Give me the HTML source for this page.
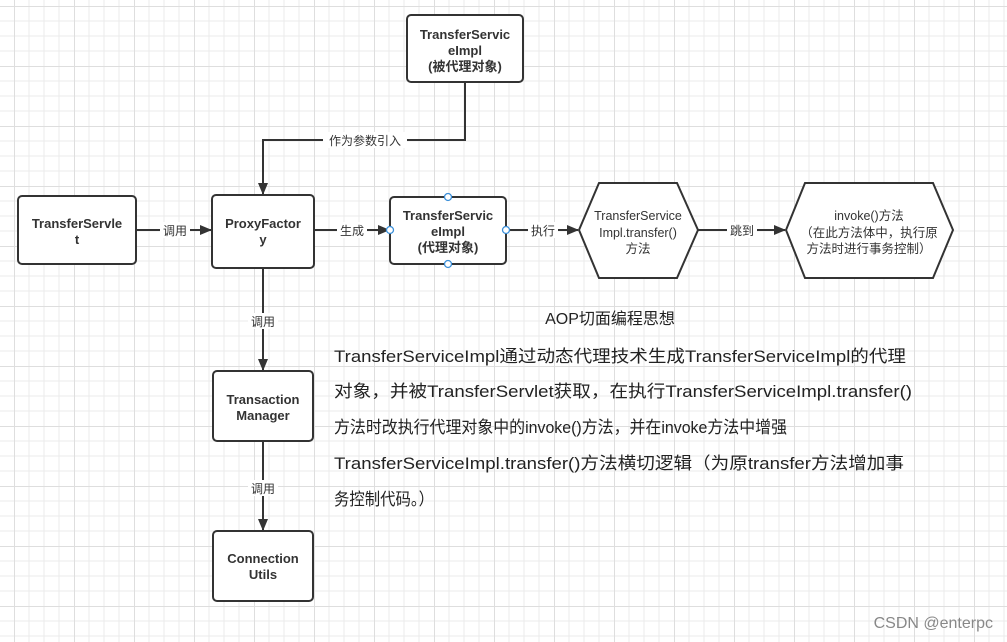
<!DOCTYPE html>
<html><head><meta charset="utf-8"><style>
html,body{margin:0;padding:0;background:#fff}
svg{display:block}
text{font-family:"Liberation Sans","Noto Sans CJK SC",sans-serif}
</style></head><body>
<svg width="1007" height="642" viewBox="0 0 1007 642" xmlns="http://www.w3.org/2000/svg">
<defs>
<pattern id="g" x="14" y="6" width="60" height="60" patternUnits="userSpaceOnUse">
<path d="M15 0V60M30 0V60M45 0V60M0 15H60M0 30H60M0 45H60" stroke="#ebebeb" stroke-width="1"/>
<path d="M0.5 0V60M0 0.5H60" stroke="#dedede" stroke-width="1"/>
</pattern>
<marker id="a" markerWidth="12" markerHeight="10" refX="11" refY="5" orient="auto" markerUnits="userSpaceOnUse">
<path d="M0 0L12 5L0 10z" fill="#333"/></marker>
</defs>
<rect width="1007" height="642" fill="url(#g)"/>
<g stroke="#333" stroke-width="2" fill="none">
<path d="M465 82V140H263V194" marker-end="url(#a)"/>
<path d="M136 230H211" marker-end="url(#a)"/>
<path d="M314 230H389" marker-end="url(#a)"/>
<path d="M506 230H578" marker-end="url(#a)"/>
<path d="M698 230H785" marker-end="url(#a)"/>
<path d="M263 268V370" marker-end="url(#a)"/>
<path d="M263 441V530" marker-end="url(#a)"/>
</g>
<g font-size="12" fill="#333" text-anchor="middle">
<rect x="323" y="132" width="84" height="16" fill="#fff"/>
<text x="365" y="145">作为参数引入</text>
<rect x="160" y="222" width="30" height="16" fill="#fff"/><text x="175" y="235">调用</text>
<rect x="337" y="222" width="30" height="16" fill="#fff"/><text x="352" y="235">生成</text>
<rect x="528" y="222" width="30" height="16" fill="#fff"/><text x="543" y="235">执行</text>
<rect x="727" y="222" width="30" height="16" fill="#fff"/><text x="742" y="235">跳到</text>
<rect x="248" y="313" width="30" height="16" fill="#fff"/><text x="263" y="326">调用</text>
<rect x="248" y="480" width="30" height="16" fill="#fff"/><text x="263" y="493">调用</text>
</g>
<g stroke="#333" stroke-width="2" fill="#fff">
<rect x="18" y="196" width="118" height="68" rx="4"/>
<rect x="212" y="195" width="102" height="73" rx="4"/>
<rect x="407" y="15" width="116" height="67" rx="4"/>
<rect x="390" y="197" width="116" height="67" rx="4"/>
<rect x="213" y="371" width="100" height="70" rx="4"/>
<rect x="213" y="531" width="100" height="70" rx="4"/>
<polygon points="599,183 677,183 698,230 677,278 599,278 579,230"/>
<polygon points="805,183 933,183 953,230 933,278 805,278 786,230"/>
</g>
<g stroke="#3b8fd8" stroke-width="1.3" fill="#fff">
<circle cx="448" cy="197" r="3.5"/><circle cx="448" cy="264" r="3.5"/>
<circle cx="390" cy="230" r="3.5"/><circle cx="506" cy="230" r="3.5"/>
</g>
<g font-size="13" font-weight="bold" fill="#333" text-anchor="middle">
<text x="77" y="228">TransferServle</text><text x="77" y="244">t</text>
<text x="263" y="228">ProxyFactor</text><text x="263" y="244">y</text>
<text x="465" y="39">TransferServic</text><text x="465" y="55">eImpl</text><text x="465" y="71">(被代理对象)</text>
<text x="448" y="220">TransferServic</text><text x="448" y="236">eImpl</text><text x="448" y="252">(代理对象)</text>
<text x="263" y="404">Transaction</text><text x="263" y="420">Manager</text>
<text x="263" y="563">Connection</text><text x="263" y="579">Utils</text>
</g>
<g font-size="12.5" fill="#333" text-anchor="middle">
<text x="638" y="220">TransferService</text><text x="638" y="237">Impl.transfer()</text><text x="638" y="253">方法</text>
<text x="869" y="220">invoke()方法</text><text x="869" y="237">（在此方法体中，执行原</text><text x="869" y="253">方法时进行事务控制）</text>
</g>
<g font-size="17" fill="#222">
<text x="610" y="324" text-anchor="middle" font-size="16">AOP切面编程思想</text>
<text x="334" y="362" textLength="572" lengthAdjust="spacingAndGlyphs">TransferServiceImpl通过动态代理技术生成TransferServiceImpl的代理</text>
<text x="334" y="397" textLength="578" lengthAdjust="spacingAndGlyphs">对象，并被TransferServlet获取，在执行TransferServiceImpl.transfer()</text>
<text x="334" y="433" textLength="453" lengthAdjust="spacingAndGlyphs">方法时改执行代理对象中的invoke()方法，并在invoke方法中增强</text>
<text x="334" y="469" textLength="570" lengthAdjust="spacingAndGlyphs">TransferServiceImpl.transfer()方法横切逻辑（为原transfer方法增加事</text>
<text x="334" y="505" textLength="100" lengthAdjust="spacingAndGlyphs">务控制代码。）</text>
</g>
<text x="993" y="628" font-size="16" fill="#888" text-anchor="end">CSDN @enterpc</text>
</svg>
</body></html>
